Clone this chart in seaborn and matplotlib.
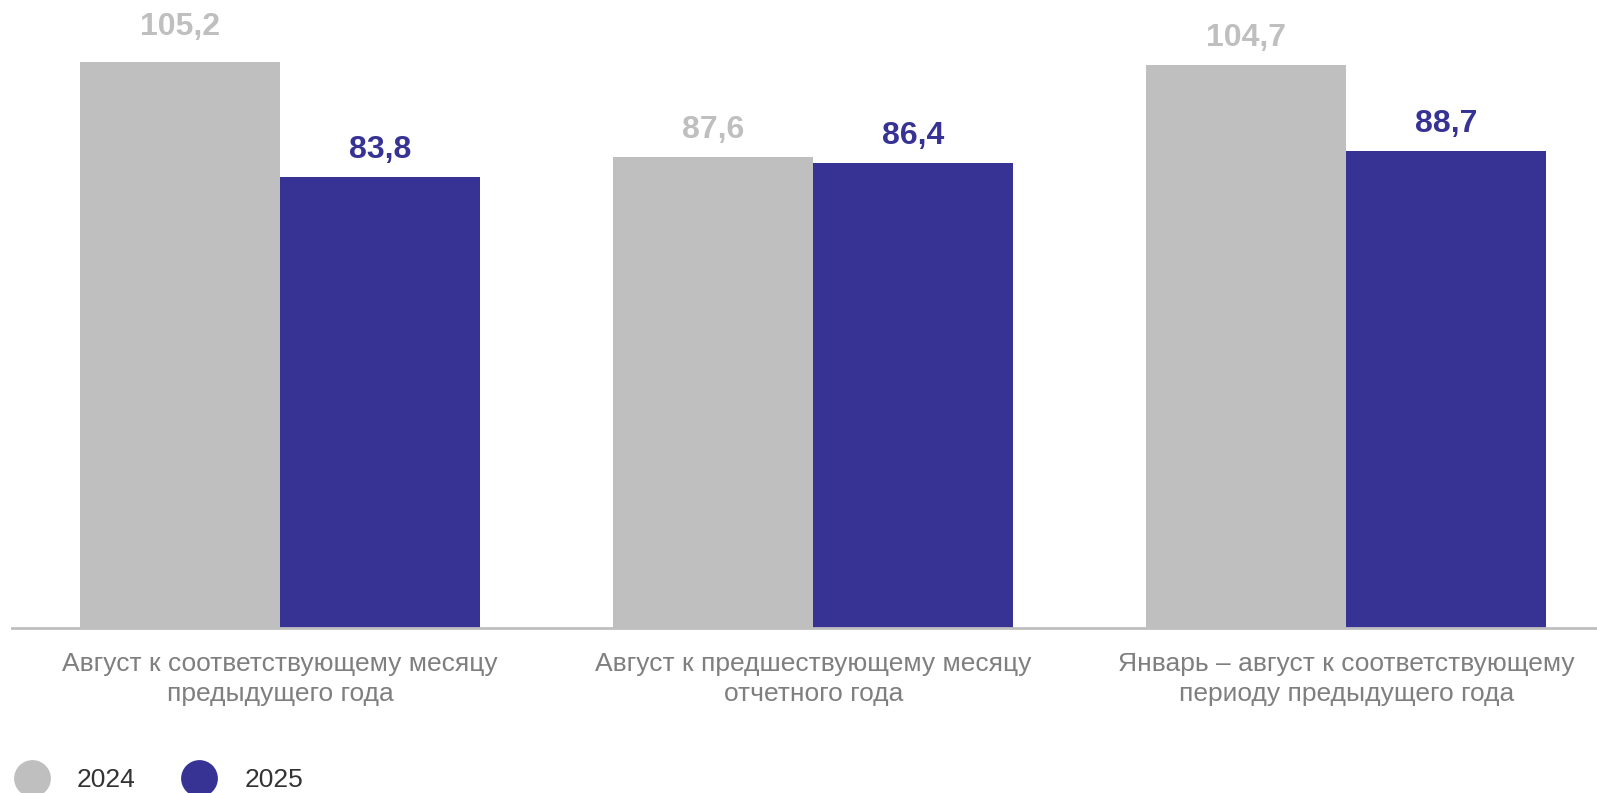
import pandas as pd
import matplotlib
matplotlib.use('Agg')
import matplotlib.pyplot as plt
from matplotlib.lines import Line2D
import seaborn as sns

categories = ['Август к соответствующему месяцу\nпредыдущего года',
              'Август к предшествующему месяцу\nотчетного года',
              'Январь – август к соответствующему\nпериоду предыдущего года']
years = ['2024', '2025']
values_2024 = [105.2, 87.6, 104.7]
values_2025 = [83.8, 86.4, 88.7]
colors = {'2024': '#bfbfbf', '2025': '#373395'}

data = pd.DataFrame({
    'category': categories * 2,
    'year': ['2024'] * 3 + ['2025'] * 3,
    'value': values_2024 + values_2025,
})

sns.set_theme(style='white')
plt.rcParams['font.family'] = ['Liberation Sans', 'DejaVu Sans']

fig = plt.figure(figsize=(15.97, 7.93), dpi=100)
ax = fig.add_axes([0.0075, 0.208, 0.9925, 0.792])

sns.barplot(data=data, x='category', y='value', hue='year', order=categories,
            hue_order=years, palette=colors, width=0.75, saturation=1,
            edgecolor='none', linewidth=0, legend=False, ax=ax)

# value labels above each bar
for container, yr in zip(ax.containers, years):
    labels = [f'{v:.1f}'.replace('.', ',') for v in container.datavalues]
    anns = ax.bar_label(container, labels=labels, padding=8.5, fontsize=23,
                        fontweight='bold', color=colors[yr])
    if yr == '2024':
        # first label sits a bit higher in the original
        anns[0].xyann = (0, 14.5)

ax.set_xlim(-0.503, 2.47)
ax.set_ylim(0, 116.7)
ax.set_xlabel('')
ax.set_ylabel('')
ax.set_yticks([])
ax.tick_params(axis='x', length=0, pad=17, labelsize=19, labelcolor='#7f7f7f')
for lbl in ax.get_xticklabels():
    lbl.set_linespacing(1.33)
for side in ['top', 'right', 'left']:
    ax.spines[side].set_visible(False)
ax.spines['bottom'].set_color('#bfbfbf')
ax.spines['bottom'].set_linewidth(2)

handles = [Line2D([], [], marker='o', linestyle='none', markersize=26.5,
                  markerfacecolor=colors[y], markeredgecolor='none', label=y)
           for y in years]
fig.legend(handles=handles, loc='center left', bbox_to_anchor=(0.0035, 0.016),
           ncol=2, frameon=False, fontsize=19, labelcolor='#333333',
           handletextpad=0.7, columnspacing=1.42, borderpad=0, borderaxespad=0)

fig.savefig('out.png', dpi=100)
